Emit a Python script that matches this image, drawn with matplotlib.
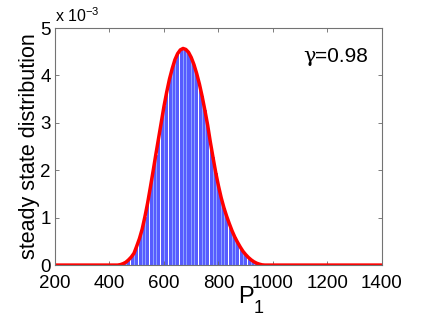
import matplotlib
matplotlib.use("Agg")
import matplotlib.pyplot as plt
import numpy as np

plt.rcParams['font.family'] = ['Liberation Sans', 'DejaVu Sans']
plt.rcParams['mathtext.fontset'] = 'custom'
plt.rcParams['mathtext.rm'] = 'Liberation Sans'
plt.rcParams['mathtext.it'] = 'Liberation Sans'

# P_1 values and steady state probabilities (x 1e-3)
p1 = [430, 440, 450, 460, 470, 480, 490, 500, 510, 520, 530, 540, 550, 560,
      570, 580, 590, 600, 610, 620, 630, 640, 650, 660, 670, 680, 690, 700,
      710, 720, 730, 740, 750, 760, 770, 780, 790, 800, 810, 820, 830, 840,
      850, 860, 870, 880, 890, 900, 910, 920, 930, 940, 950, 960, 970]
prob = [0.0, 0.01, 0.03, 0.06, 0.11, 0.17, 0.25, 0.40, 0.56, 0.76, 1.02, 1.31,
        1.64, 1.98, 2.33, 2.67, 3.01, 3.35, 3.65, 3.92, 4.14, 4.33, 4.46, 4.54,
        4.57, 4.55, 4.49, 4.38, 4.23, 4.04, 3.82, 3.56, 3.27, 2.96, 2.60, 2.27,
        1.95, 1.67, 1.42, 1.21, 1.03, 0.87, 0.72, 0.59, 0.48, 0.38, 0.29, 0.22,
        0.16, 0.11, 0.07, 0.04, 0.02, 0.005, 0.0]

xticks = [200, 400, 600, 800, 1000, 1200, 1400]
yticks = [0, 1, 2, 3, 4, 5]

x = np.array(p1)
y = np.array(prob) * 1e-3

fig = plt.figure(figsize=(4.23, 3.19), dpi=100)
ax = fig.add_axes([0.130, 0.169, 0.773, 0.743])

ax.bar(x, y, width=5.5, color='#8ea2ff', edgecolor='blue', linewidth=0.4)
xc = np.concatenate([[200], x, [1400]])
yc = np.concatenate([[0], y, [0]])
ax.plot(xc, yc, color='red', linewidth=2.5, solid_capstyle='round')

ax.set_xlim(200, 1400)
ax.set_ylim(0, 5e-3)
ax.set_xticks(xticks)
ax.set_yticks([v * 1e-3 for v in yticks])
ax.set_yticklabels([str(v) for v in yticks])
ax.tick_params(direction='in', top=True, right=True, labelsize=13.5,
               length=3, width=0.6, color='0.4')
ax.tick_params(axis='x', pad=7)
ax.tick_params(axis='y', pad=3)
for s in ax.spines.values():
    s.set_color('0.45')
    s.set_linewidth(0.8)

ax.set_ylabel('steady state distribution', fontsize=15.5, labelpad=0)
# x label P with subscript 1, placed like the original
ax.text(0.56, -0.16, 'P', transform=ax.transAxes, fontsize=17,
        ha='left', va='baseline')
ax.text(0.607, -0.203, '1', transform=ax.transAxes, fontsize=13,
        ha='left', va='baseline')
ax.text(0.0, 1.015, r'x 10$^{-3}$', transform=ax.transAxes, fontsize=11.5,
        ha='left', va='bottom')
ax.text(0.796, 0.88, 'γ', transform=ax.transAxes, fontsize=15,
        family='DejaVu Serif', ha='right', va='center')
ax.text(0.796, 0.88, '=0.98', transform=ax.transAxes, fontsize=15,
        ha='left', va='center')

fig.savefig('out.png', dpi=100)
